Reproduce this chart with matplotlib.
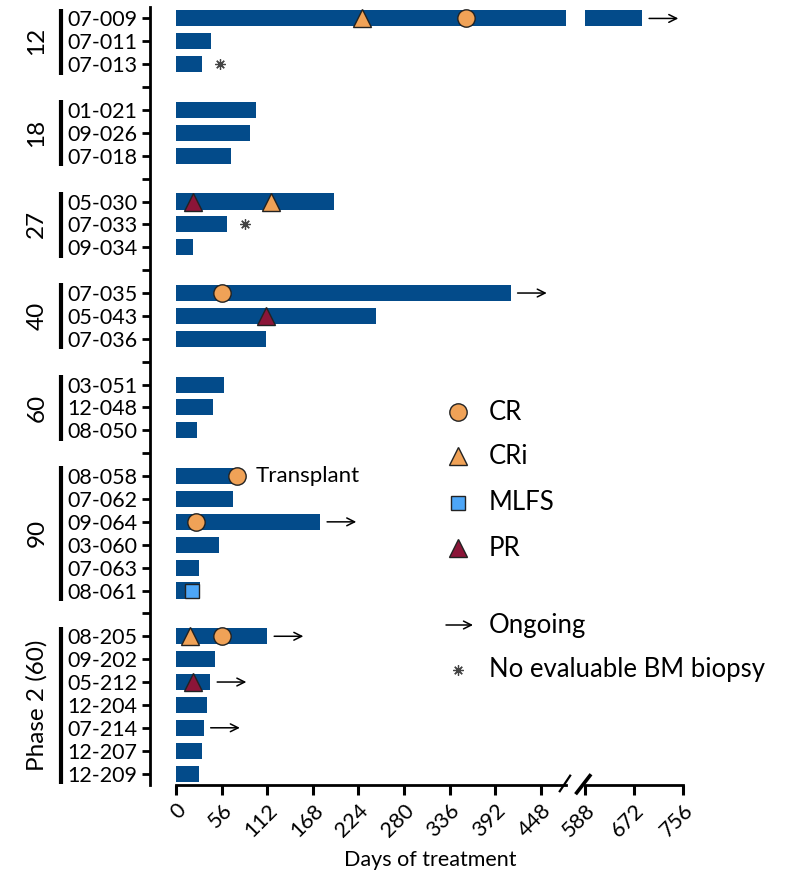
import numpy as np
import matplotlib.pyplot as plt

plt.rcParams['font.family'] = ['Lato', 'DejaVu Sans']

# data
groups = ['12', '18', '27', '40', '60', '90', 'Phase 2 (60)']
group_sizes = [3, 3, 3, 3, 3, 6, 7]
patients = ['07-009', '07-011', '07-013',
            '01-021', '09-026', '07-018',
            '05-030', '07-033', '09-034',
            '07-035', '05-043', '07-036',
            '03-051', '12-048', '08-050',
            '08-058', '07-062', '09-064', '03-060', '07-063', '08-061',
            '08-205', '09-202', '05-212', '12-204', '07-214', '12-207', '12-209']
days = [686, 43, 32,
        98, 91, 68,
        194, 63, 21,
        411, 246, 110,
        59, 45, 26,
        75, 70, 177, 53, 28, 30,
        112, 48, 42, 38, 34, 32, 28]

cr_pat = ['07-009', '07-035', '08-058', '09-064', '08-205']
cr_day = [356, 56, 75, 25, 56]
cri_pat = ['07-009', '05-030', '08-205']
cri_day = [229, 117, 17]
mlfs_pat = ['08-061']
mlfs_day = [20]
pr_pat = ['05-030', '05-043', '05-212']
pr_day = [21, 111, 21]
ongoing_pat = ['07-009', '07-035', '09-064', '08-205', '05-212', '07-214']
nobm_pat = ['07-013', '07-033']
nobm_day = [54, 85]

left_ticks = [0, 56, 112, 168, 224, 280, 336, 392, 448]
right_ticks = [588, 672, 756]

bar_col = '#034b8a'
orange = '#f0a257'
blue = '#4da6f7'
red = '#8b1538'

# y slot positions, one empty slot between groups
ypos = {}
tick_pos = []
tick_lab = []
slot = 0
group_span = []
for g, n in zip(groups, group_sizes):
    first = slot
    for k in range(n):
        p = patients[len(ypos)]
        ypos[p] = slot
        tick_pos.append(slot)
        tick_lab.append(p)
        slot += 1
    group_span.append((first, slot - 1))
    if g != groups[-1]:
        tick_pos.append(slot)
        tick_lab.append('')
        slot += 1
nslots = slot

W, H = 788, 883
fig = plt.figure(figsize=(W / 100, H / 100), dpi=100)
top, bot = 7, 785
ax = fig.add_axes([150 / W, 1 - bot / H, (566 - 150) / W, (bot - top) / H])
ax2 = fig.add_axes([585 / W, 1 - bot / H, (683 - 585) / W, (bot - top) / H], sharey=ax)

y = [ypos[p] for p in patients]
for a in (ax, ax2):
    a.barh(y, days, height=0.7, color=bar_col, zorder=2)
    a.plot(cr_day, [ypos[p] for p in cr_pat], 'o', ms=12.5, mfc=orange, mec='#222222', mew=1, zorder=4)
    a.plot(cri_day, [ypos[p] for p in cri_pat], '^', ms=13, mfc=orange, mec='#222222', mew=1, zorder=4)
    a.plot(mlfs_day, [ypos[p] for p in mlfs_pat], 's', ms=10.5, mfc=blue, mec='#222222', mew=1, zorder=4)
    a.plot(pr_day, [ypos[p] for p in pr_pat], '^', ms=13, mfc=red, mec='#222222', mew=1, zorder=4)

ax.plot(nobm_day, [ypos[p] for p in nobm_pat], marker=(8, 2, 0), ls='none', ms=7.5, mew=0.9,
        color='#444444', zorder=4)

for p in ongoing_pat:
    d = days[patients.index(p)]
    a = ax2 if d > 588 else ax
    a.annotate('', xy=(d, ypos[p]), xytext=(26, 0), textcoords='offset points',
               arrowprops=dict(arrowstyle='<-', lw=1.1, color='black', shrinkA=0, shrinkB=5,
                               mutation_scale=14),
               annotation_clip=False)

ax.text(98, ypos['08-058'], 'Transplant', fontsize=16, va='center', ha='left')

ax.set_xlim(-32, 479)
ax2.set_xlim(588, 756)
ax.set_ylim(nslots - 0.5, -0.5)

ax.set_yticks(tick_pos)
ax.set_yticklabels(tick_lab, fontsize=15.5)
ax.tick_params(axis='y', length=6, width=2, pad=3)
ax.set_xticks(left_ticks)
ax.set_xticklabels([str(t) for t in left_ticks], rotation=45, ha='right', va='top',
                   rotation_mode='anchor', fontsize=15.5)
ax2.set_xticks(right_ticks)
ax2.set_xticklabels([str(t) for t in right_ticks], rotation=45, ha='right', va='top',
                    rotation_mode='anchor', fontsize=15.5)
for a in (ax, ax2):
    a.tick_params(axis='x', length=7, width=2.2, pad=4)
    a.spines['top'].set_visible(False)
    a.spines['right'].set_visible(False)
    a.spines['bottom'].set_linewidth(2)
ax.spines['left'].set_linewidth(2)
ax.spines['bottom'].set_bounds(0, 479)
ax2.spines['left'].set_visible(False)
ax2.tick_params(axis='y', left=False, labelleft=False)

# break marks
ax.plot([0.985, 1.01], [-0.008, 0.012], transform=ax.transAxes, color='black', lw=1.6,
        clip_on=False)
ax2.plot([-0.085, 0.05], [-0.01, 0.012], transform=ax2.transAxes, color='black', lw=2.6,
         clip_on=False)

# group brackets
yt = ax.get_yaxis_transform()
for g, (s, e) in zip(groups, group_span):
    ax.plot([-0.214, -0.214], [s - 0.42, e + 0.45], transform=yt, color='black', lw=3,
            clip_on=False, solid_capstyle='butt')
    ax.text(-0.272, (s + e) / 2, g, transform=yt, rotation=90, ha='center', va='center',
            fontsize=17.5)

fig.text(430 / W, 1 - 860 / H, 'Days of treatment', ha='center', va='center', fontsize=15.5)

# legend
lg = fig.add_axes([0, 0, 1, 1], facecolor='none')
lg.set_xlim(0, W)
lg.set_ylim(H, 0)
lg.axis('off')
leg_items = [('o', orange, 12.5, 'CR', 412), ('^', orange, 13, 'CRi', 456),
             ('s', blue, 10.5, 'MLFS', 503), ('^', red, 13, 'PR', 548)]
for m, c, ms, lab, yy in leg_items:
    lg.plot([458], [yy], m, ms=ms, mfc=c, mec='#222222', mew=1)
    lg.text(489, yy, lab, va='center', ha='left', fontsize=18.5)
lg.annotate('', xy=(446, 625), xytext=(473, 625),
            arrowprops=dict(arrowstyle='<-', lw=1.1, color='black', shrinkA=0, shrinkB=0,
                            mutation_scale=14))
lg.text(489, 625, 'Ongoing', va='center', ha='left', fontsize=18.5)
lg.plot([458], [670], marker=(8, 2, 0), ls='none', ms=7.5, mew=0.9, color='#444444')
lg.text(489, 670, 'No evaluable BM biopsy', va='center', ha='left', fontsize=18.5)

fig.savefig('out.png', dpi=100)
